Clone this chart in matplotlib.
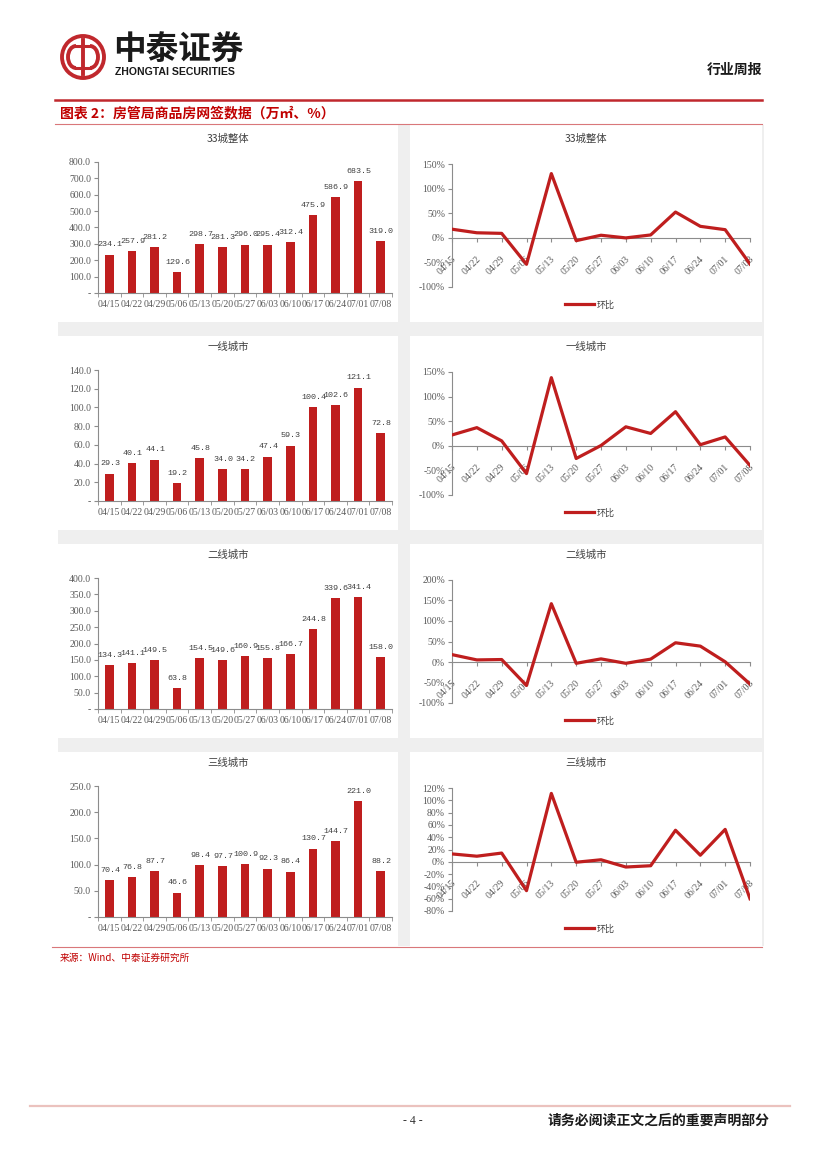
import matplotlib
matplotlib.use('Agg')
import matplotlib.pyplot as plt
import matplotlib.transforms as mtransforms
from matplotlib.patches import Rectangle, Circle, Arc
import numpy as np

# ---- data ----
dates = ['04/15', '04/22', '04/29', '05/06', '05/13', '05/20', '05/27',
         '06/03', '06/10', '06/17', '06/24', '07/01', '07/08']
titles = ['33城整体', '一线城市', '二线城市', '三线城市']

# 网签面积 (万㎡)
area_all = [234.1, 257.9, 281.2, 129.6, 298.7, 281.3, 296.0, 295.4, 312.4, 475.9, 586.9, 683.5, 319.0]
area_t1 = [29.3, 40.1, 44.1, 19.2, 45.8, 34.0, 34.2, 47.4, 59.3, 100.4, 102.6, 121.1, 72.8]
area_t2 = [134.3, 141.1, 149.5, 63.8, 154.5, 149.6, 160.9, 155.8, 166.7, 244.8, 339.6, 341.4, 158.0]
area_t3 = [70.4, 76.8, 87.7, 46.6, 98.4, 97.7, 100.9, 92.3, 86.4, 130.7, 144.7, 221.0, 88.2]

# 环比 (%)
mom_all = [17.5, 10.2, 9.0, -53.9, 130.5, -5.8, 5.2, -0.2, 5.8, 52.3, 23.3, 16.5, -53.3]
mom_t1 = [22.0, 36.9, 10.0, -56.5, 138.5, -25.8, 0.6, 38.6, 25.1, 69.3, 2.2, 18.0, -39.9]
mom_t2 = [18.0, 5.1, 6.0, -57.3, 142.2, -3.2, 7.6, -3.2, 7.0, 46.9, 38.7, 0.5, -53.7]
mom_t3 = [12.8, 9.1, 14.2, -46.9, 111.2, -0.7, 3.3, -8.5, -6.4, 51.3, 10.7, 52.7, -60.1]

areas = [area_all, area_t1, area_t2, area_t3]
moms = [mom_all, mom_t1, mom_t2, mom_t3]

bar_ymax = [800, 140, 400, 250]
bar_step = [100, 20, 50, 50]
line_rng = [(-100, 150, 50), (-100, 150, 50), (-100, 200, 50), (-80, 120, 20)]

# ---- style ----
RED = '#BF1E1E'
HDR_RED = '#C0282D'
GRAY = '#8C8C8C'
TXT = '#595959'
CJK = ['Noto Sans CJK SC', 'DejaVu Sans']
SERIF = ['Liberation Serif', 'DejaVu Serif']

W, H = 827, 1169
fig = plt.figure(figsize=(8.27, 11.69), dpi=100)


def box(x0, y0, x1, y1):
    return [x0 / W, 1 - y1 / H, (x1 - x0) / W, (y1 - y0) / H]


def style_axes(ax):
    for lab in ax.get_xticklabels() + ax.get_yticklabels():
        lab.set_family(SERIF)
    for s in ['top', 'right']:
        ax.spines[s].set_visible(False)
    for s in ['left', 'bottom']:
        ax.spines[s].set_color(GRAY)
        ax.spines[s].set_linewidth(0.8)
    ax.patch.set_alpha(0)


# background layer in pixel coordinates
bg = fig.add_axes([0, 0, 1, 1], zorder=-10)
bg.set_xlim(0, W)
bg.set_ylim(H, 0)
bg.axis('off')

# header
bg.add_patch(Circle((83, 57), 21, fill=False, lw=2.8, ec=HDR_RED))
bg.add_patch(Arc((76, 57), 16, 22, theta1=90, theta2=270, lw=2.8, color=HDR_RED))
bg.add_patch(Arc((90, 57), 16, 22, theta1=-90, theta2=90, lw=2.8, color=HDR_RED))
bg.plot([83, 83], [40, 74], color=HDR_RED, lw=2.8)
bg.plot([76, 90], [46, 46], color=HDR_RED, lw=2.2)
bg.plot([76, 90], [68, 68], color=HDR_RED, lw=2.2)
bg.text(113, 50, '中泰证券', family=CJK, fontsize=23.5, weight='bold', color='#1a1a1a',
        ha='left', va='center')
bg.text(115, 72, 'ZHONGTAI SECURITIES', family=['Liberation Sans', 'DejaVu Sans'],
        fontsize=7.6, weight='bold', color='#1a1a1a', ha='left', va='center')
bg.text(762, 70, '行业周报', family=CJK, fontsize=10, weight='bold', color='#1a1a1a',
        ha='right', va='center')
bg.plot([55, 762], [100, 100], color=HDR_RED, lw=1.8)
bg.text(60, 113, '图表 2：房管局商品房网签数据（万㎡、%）', family=CJK, fontsize=10,
        weight='bold', style='italic', color='#C00000', ha='left', va='center')
bg.plot([55, 762], [124, 124], color='#D9777A', lw=0.8)

# panel background
bg.add_patch(Rectangle((58, 125), 706, 821, color='#EFEFEF', lw=0))
for k in range(4):
    top = 125 if k == 0 else 120 + 208 * k + 8
    bot = 322 + 208 * k
    bg.add_patch(Rectangle((58, top), 340, bot - top, color='white', lw=0))
    bg.add_patch(Rectangle((410, top), 352, bot - top, color='white', lw=0))
    bg.text(228, 139 + 208 * k, titles[k], family=CJK, fontsize=7.5, color='#404040',
            ha='center', va='center')
    bg.text(586, 139 + 208 * k, titles[k], family=CJK, fontsize=7.5, color='#404040',
            ha='center', va='center')

# source + footer
bg.plot([52, 762], [947, 947], color='#D9777A', lw=0.8)
bg.text(60, 958, '来源：Wind、中泰证券研究所', family=CJK, fontsize=7, color='#C00000',
        ha='left', va='center')
bg.plot([30, 790], [1106, 1106], color='#EBC2BE', lw=1.6)
bg.text(413, 1121, '- 4 -', family=SERIF, fontsize=8.5, color='#333333', ha='center', va='center')
bg.text(770, 1121, '请务必阅读正文之后的重要声明部分', family=CJK, fontsize=10, weight='bold',
        color='#1a1a1a', ha='right', va='center')

x = np.arange(len(dates))
shift = mtransforms.ScaledTranslation(4 / 72, 0, fig.dpi_scale_trans)

for k in range(4):
    off = 208 * k

    # ---- bar chart ----
    axb = fig.add_axes(box(98, 162 + off, 392, 293 + off))
    axb.bar(x, areas[k], width=0.38, color=RED, zorder=2)
    for xi, v in zip(x, areas[k]):
        axb.annotate(f'{v:.1f}', (xi, v), xytext=(0.5, 4.5), textcoords='offset points',
                     ha='center', va='bottom', fontsize=6,
                     family=['Liberation Mono', 'DejaVu Sans Mono'], color='#404040')
    axb.set_xlim(-0.5, 12.5)
    axb.set_ylim(0, bar_ymax[k])
    yt = np.arange(0, bar_ymax[k] + bar_step[k] / 2, bar_step[k])
    axb.set_yticks(yt, ['-' if t == 0 else f'{t:.1f}' for t in yt])
    axb.set_xticks(x, dates)
    axb.set_xticks(np.arange(-0.5, 13, 1), minor=True)
    axb.tick_params(axis='x', which='major', length=0, pad=5, labelsize=7, labelcolor=TXT)
    axb.tick_params(axis='x', which='minor', length=3, color=GRAY, direction='out')
    axb.tick_params(axis='y', length=3, color=GRAY, pad=2, labelsize=7, labelcolor=TXT)
    style_axes(axb)

    # ---- line chart ----
    lo, hi, st = line_rng[k]
    axl = fig.add_axes(box(452, 164 + off, 750, 287 + off))
    axl.spines['bottom'].set_position(('data', 0))
    ln, = axl.plot(x, moms[k], color=RED, lw=2.3, zorder=3)
    axl.set_xlim(0, 12)
    axl.set_ylim(lo, hi)
    yt = np.arange(lo, hi + st / 2, st)
    axl.set_yticks(yt, [f'{int(t)}%' for t in yt])
    axl.set_xticks(x, dates)
    axl.tick_params(axis='x', length=3, color=GRAY, pad=9, labelsize=7, labelcolor=TXT,
                    labelrotation=45)
    for lab in axl.get_xticklabels():
        lab.set_ha('right')
        lab.set_transform(lab.get_transform() + shift)
    axl.tick_params(axis='y', length=3, color=GRAY, pad=2, labelsize=7, labelcolor=TXT)
    style_axes(axl)
    leg = axl.legend([ln], ['环比'], loc='center', bbox_to_anchor=(590 / W, 1 - (305 + off) / H),
                     bbox_transform=fig.transFigure, frameon=False, handlelength=3.2,
                     handletextpad=0.3, prop={'family': CJK, 'size': 6.5})
    for t in leg.get_texts():
        t.set_color('#404040')

fig.savefig('out.png', dpi=100)
